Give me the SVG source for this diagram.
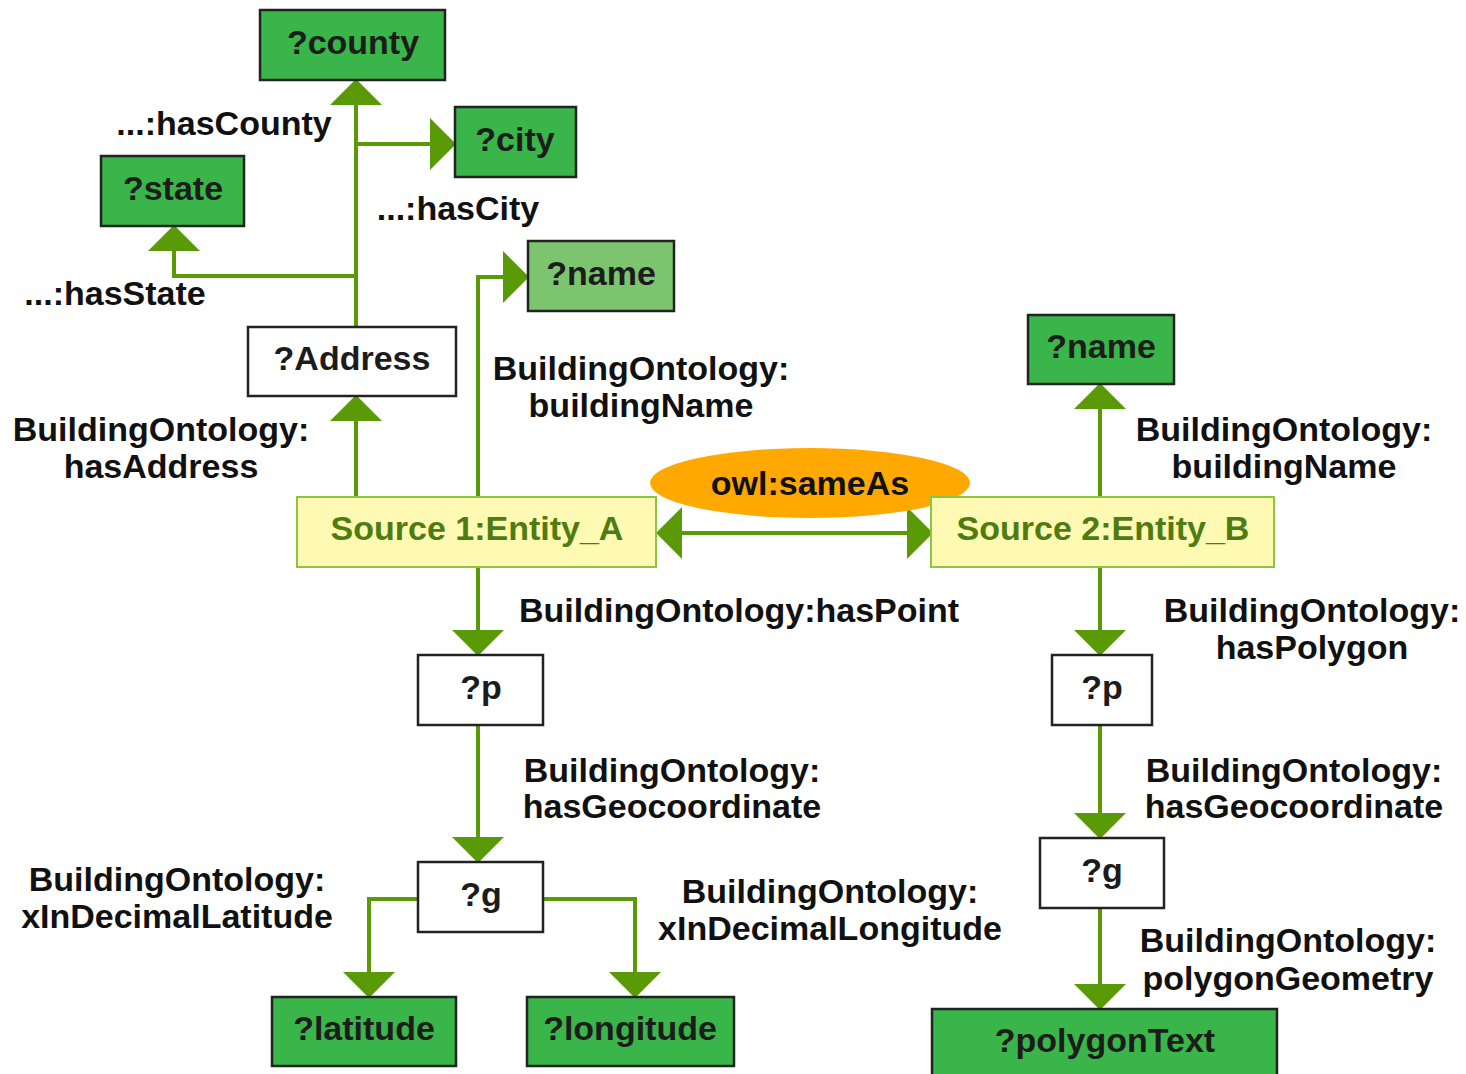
<svg xmlns="http://www.w3.org/2000/svg" width="1466" height="1074" viewBox="0 0 1466 1074">
<defs>
<style>
.n rect{stroke:#222;stroke-width:2.5}
.g rect{fill:#39b54a}
.lg rect{fill:#7dc46f}
.w rect{fill:#fff}
.s rect{fill:#fffab3;stroke:#8cc63f;stroke-width:2}
text{font-family:"Liberation Sans",Arial,sans-serif;font-weight:bold;font-size:34px;fill:#111}
.n text{text-anchor:middle;fill:#1c1c1c}
.s text{fill:#4e7c10}
.lbl{text-anchor:middle}
.c path{fill:none;stroke:#5b9a07;stroke-width:4;marker-end:url(#ah)}
</style>
<marker id="ah" markerUnits="userSpaceOnUse" markerWidth="26" markerHeight="52" viewBox="0 0 25 50" refX="0" refY="25" orient="auto-start-reverse">
<path d="M0,0 L25,25 L0,50 z" fill="#5b9a07"/>
</marker>
</defs>

<g id="connectors" class="c">
<path d="M356,327 V105"/>
<path d="M356,144 H430"/>
<path d="M356,276 H174 V251"/>
<path d="M356,497 V421"/>
<path d="M478,497 V277 H503"/>
<path d="M1100,497 V409"/>
<path d="M682,533 H907" style="marker-start:url(#ah)"/>
<path d="M478,567 V630"/>
<path d="M478,725 V837"/>
<path d="M418,899 H369 V972"/>
<path d="M538,899 H635 V972"/>
<path d="M1100,567 V630"/>
<path d="M1100,725 V813"/>
<path d="M1100,908 V984"/>
</g>

<g id="n-county" class="n g"><rect x="260" y="10" width="185" height="70"/><text x="353" y="54">?county</text></g>
<g id="n-city" class="n g"><rect x="455" y="107" width="121" height="70"/><text x="515" y="151">?city</text></g>
<g id="n-state" class="n g"><rect x="101" y="156" width="143" height="70"/><text x="173" y="200">?state</text></g>
<g id="n-name1" class="n lg"><rect x="528" y="241" width="146" height="70"/><text x="601" y="285">?name</text></g>
<g id="n-address" class="n w"><rect x="248" y="327" width="208" height="69"/><text x="352" y="370">?Address</text></g>
<g id="n-name2" class="n g"><rect x="1028" y="315" width="146" height="69"/><text x="1101" y="358">?name</text></g>
<g id="n-sameas"><ellipse cx="810" cy="483" rx="160" ry="35" fill="#ffa800"/><text x="810" y="495" class="lbl">owl:sameAs</text></g>
<g id="n-entityA" class="n s"><rect x="297" y="497" width="359" height="70"/><text x="477" y="540">Source 1:Entity_A</text></g>
<g id="n-entityB" class="n s"><rect x="931" y="497" width="343" height="70"/><text x="1103" y="540">Source 2:Entity_B</text></g>
<g id="n-p1" class="n w"><rect x="418" y="655" width="125" height="70"/><text x="481" y="699">?p</text></g>
<g id="n-p2" class="n w"><rect x="1052" y="655" width="100" height="70"/><text x="1102" y="699">?p</text></g>
<g id="n-g1" class="n w"><rect x="418" y="862" width="125" height="70"/><text x="481" y="906">?g</text></g>
<g id="n-g2" class="n w"><rect x="1040" y="838" width="124" height="70"/><text x="1102" y="882">?g</text></g>
<g id="n-latitude" class="n g"><rect x="272" y="997" width="184" height="69"/><text x="364" y="1040">?latitude</text></g>
<g id="n-longitude" class="n g"><rect x="527" y="997" width="207" height="69"/><text x="630" y="1040">?longitude</text></g>
<g id="n-polygonText" class="n g"><rect x="932" y="1009" width="345" height="80"/><text x="1105" y="1052">?polygonText</text></g>

<g id="labels">
<text x="224" y="135" class="lbl">...:hasCounty</text>
<text x="458" y="220" class="lbl">...:hasCity</text>
<text x="115" y="305" class="lbl">...:hasState</text>
<text class="lbl" x="161" y="441">BuildingOntology:</text>
<text class="lbl" x="161" y="478">hasAddress</text>
<text class="lbl" x="641" y="380">BuildingOntology:</text>
<text class="lbl" x="641" y="417">buildingName</text>
<text class="lbl" x="1284" y="441">BuildingOntology:</text>
<text class="lbl" x="1284" y="478">buildingName</text>
<text x="519" y="622">BuildingOntology:hasPoint</text>
<text class="lbl" x="1312" y="622">BuildingOntology:</text>
<text class="lbl" x="1312" y="659">hasPolygon</text>
<text class="lbl" x="672" y="782">BuildingOntology:</text>
<text class="lbl" x="672" y="818">hasGeocoordinate</text>
<text class="lbl" x="1294" y="782">BuildingOntology:</text>
<text class="lbl" x="1294" y="818">hasGeocoordinate</text>
<text class="lbl" x="177" y="891">BuildingOntology:</text>
<text class="lbl" x="177" y="928">xInDecimalLatitude</text>
<text class="lbl" x="830" y="903">BuildingOntology:</text>
<text class="lbl" x="830" y="940">xInDecimalLongitude</text>
<text class="lbl" x="1288" y="952">BuildingOntology:</text>
<text class="lbl" x="1288" y="990">polygonGeometry</text>
</g>
</svg>
